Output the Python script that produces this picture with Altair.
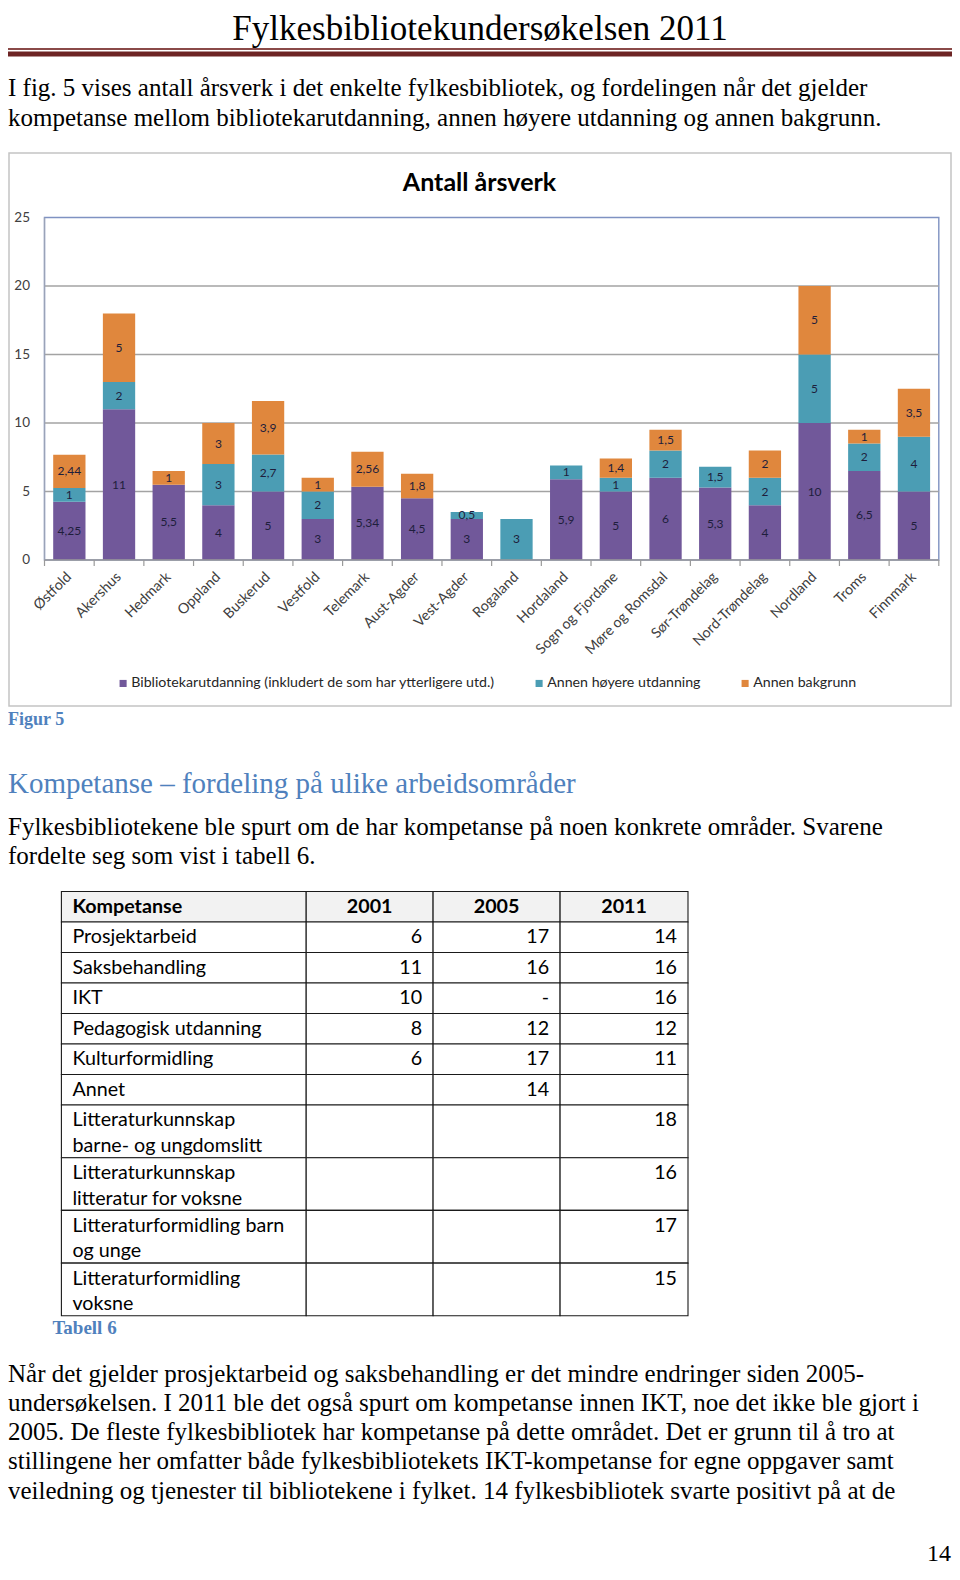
import altair as alt
import pandas as pd

# ---------------- data ----------------
regions = ["Østfold", "Akershus", "Hedmark", "Oppland", "Buskerud", "Vestfold",
           "Telemark", "Aust-Agder", "Vest-Agder", "Rogaland", "Hordaland",
           "Sogn og Fjordane", "Møre og Romsdal", "Sør-Trøndelag", "Nord-Trøndelag",
           "Nordland", "Troms", "Finnmark"]
bibliotekarutdanning = [4.25, 11, 5.5, 4, 5, 3, 5.34, 4.5, 3, None, 5.9, 5, 6, 5.3, 4, 10, 6.5, 5]
annen_hoyere = [1, 2, None, 3, 2.7, 2, None, None, 0.5, 3, 1, 1, 2, 1.5, 2, 5, 2, 4]
annen_bakgrunn = [2.44, 5, 1, 3, 3.9, 1, 2.56, 1.8, None, None, None, 1.4, 1.5, None, 2, 5, 1, 3.5]
series_names = ["Bibliotekarutdanning (inkludert de som har ytterligere utd.)",
                "Annen høyere utdanning", "Annen bakgrunn"]
series_colors = ["#71589a", "#4b9db4", "#e0873d"]
y_ticks = [0, 5, 10, 15, 20, 25]
chart_title = "Antall årsverk"

table_columns = ["Kompetanse", "2001", "2005", "2011"]
kompetanse = ["Prosjektarbeid", "Saksbehandling", "IKT", "Pedagogisk utdanning",
              "Kulturformidling", "Annet",
              "Litteraturkunnskap\nbarne- og ungdomslitt",
              "Litteraturkunnskap\nlitteratur for voksne",
              "Litteraturformidling barn\nog unge",
              "Litteraturformidling\nvoksne"]
aar_2001 = ["6", "11", "10", "8", "6", "", "", "", "", ""]
aar_2005 = ["17", "16", "-", "12", "17", "14", "", "", "", ""]
aar_2011 = ["14", "16", "16", "12", "11", "", "18", "16", "17", "15"]

page_header = "Fylkesbibliotekundersøkelsen 2011"
intro_lines = ["I fig. 5 vises antall årsverk i det enkelte fylkesbibliotek, og fordelingen når det gjelder",
               "kompetanse mellom bibliotekarutdanning, annen høyere utdanning og annen bakgrunn."]
figure_caption = "Figur 5"
section_heading = "Kompetanse – fordeling på ulike arbeidsområder"
para_lines = ["Fylkesbibliotekene ble spurt om de har kompetanse på noen konkrete områder. Svarene",
              "fordelte seg som vist i tabell 6."]
table_caption = "Tabell 6"
closing_lines = ["Når det gjelder prosjektarbeid og saksbehandling er det mindre endringer siden 2005-",
                 "undersøkelsen. I 2011 ble det også spurt om kompetanse innen IKT, noe det ikke ble gjort i",
                 "2005. De fleste fylkesbibliotek har kompetanse på dette området. Det er grunn til å tro at",
                 "stillingene her omfatter både fylkesbibliotekets IKT-kompetanse for egne oppgaver samt",
                 "veiledning og tjenester til bibliotekene i fylket. 14 fylkesbibliotek svarte positivt på at de"]
page_number = "14"

# ---------------- layout ----------------
W, H = 944, 1560
SERIF = "Liberation Serif"
SANS = "Lato"
BLUE = "#4f81bd"
BODY_FS = 25
ONE = pd.DataFrame({"_": [0]})


def line_text(text, x, base_y, size, font=SERIF, color="#000000", weight="normal", align="left"):
    return alt.Chart(pd.DataFrame({"t": [text]})).mark_text(
        align=align, baseline="alphabetic", font=font, fontSize=size,
        fontWeight=weight, color=color
    ).encode(x=alt.value(x), y=alt.value(base_y), text="t:N")


def para_text(lines, x, first_center, size, lh, font=SERIF, color="#000000"):
    return alt.Chart(pd.DataFrame({"t": ["\n".join(lines)]})).mark_text(
        align="left", baseline="top", font=font, fontSize=size, color=color,
        lineBreak="\n", lineHeight=lh
    ).encode(x=alt.value(x), y=alt.value(first_center - 0.49 * size), text="t:N")


def hline(y, x0, x1, color, width):
    return alt.Chart(ONE).mark_rule(color=color, strokeWidth=width).encode(
        x=alt.value(x0), x2=alt.value(x1), y=alt.value(y))


def vline(x, y0, y1, color, width):
    return alt.Chart(ONE).mark_rule(color=color, strokeWidth=width).encode(
        x=alt.value(x), y=alt.value(y0), y2=alt.value(y1))


def frame(x0, x1, y0, y1, stroke, width, fill="#ffffff", fill_opacity=1.0):
    return alt.Chart(ONE).mark_rect(fill=fill, fillOpacity=fill_opacity,
                                    stroke=stroke, strokeWidth=width).encode(
        x=alt.value(x0), x2=alt.value(x1), y=alt.value(y0), y2=alt.value(y1))


layers = []

# page header
layers.append(line_text(page_header, 472, 31.5, 35, align="center"))
layers.append(hline(41, 0, W, "#8a4a48", 2))
layers.append(hline(46, 0, W, "#6d2424", 5))
layers.append(para_text(intro_lines, 0, 80.6, BODY_FS, 29.3))

# ---------------- bar chart ----------------
PX0, PX1, PYT, PYB = 36.5, 930.8, 209.5, 552.0
layers.append(frame(1, 943, 145, 698, "#c4c4c4", 1.5))
layers.append(line_text(chart_title, 471.5, 183, 25, font=SANS, weight="bold", align="center"))


def fmt(v):
    return f"{v:g}".replace(".", ",")


rows = []
for i, reg in enumerate(regions):
    for k, vals in enumerate([bibliotekarutdanning, annen_hoyere, annen_bakgrunn]):
        v = vals[i]
        if v is None:
            continue
        rows.append({"region": reg, "serie": series_names[k], "order": k, "value": v, "label": fmt(v)})
bar_df = pd.DataFrame(rows)

XS = alt.Scale(domain=regions, range=[PX0, PX1], paddingInner=0.35, paddingOuter=0.175)
YS = alt.Scale(domain=[0, 25], range=[PYB, PYT], nice=False, zero=True)
XI = alt.Scale(domain=[0, len(regions)], range=[PX0, PX1], nice=False, zero=False)

tick_df = pd.DataFrame({"t": y_ticks})
layers.append(frame(PX0, PX1, PYT, PYB, "#7f92c2", 1.4, fill="#ffffff", fill_opacity=0))
layers.append(alt.Chart(tick_df).transform_filter("datum.t > 0 && datum.t < 25").mark_rule(
    color="#a3a3a3", strokeWidth=1.3).encode(
    y=alt.Y("t:Q", scale=YS, axis=None), x=alt.value(PX0), x2=alt.value(PX1)))
layers.append(vline(PX0, PYT, PYB, "#9aa3b8", 1.3))
layers.append(alt.Chart(tick_df).mark_text(
    align="right", baseline="middle", font=SANS, fontSize=13.5, color="#404040").encode(
    y=alt.Y("t:Q", scale=YS, axis=None), x=alt.value(22), text="t:Q"))

stacked = alt.Chart(bar_df).transform_stack(
    stack="value", groupby=["region"],
    sort=[alt.SortField(field="order", order="ascending")], as_=["v0", "v1"])

layers.append(stacked.mark_bar().encode(
    x=alt.X("region:N", scale=XS, axis=None),
    y=alt.Y("v0:Q", scale=YS, axis=None),
    y2="v1:Q",
    color=alt.Color("serie:N", scale=alt.Scale(domain=series_names, range=series_colors),
                    legend=alt.Legend(orient="none", legendX=108, legendY=668,
                                      direction="horizontal", title=None,
                                      symbolType="square", symbolSize=50,
                                      symbolStrokeWidth=0, labelFont=SANS,
                                      labelFontSize=14.2, labelColor="#262626",
                                      labelLimit=600, columnPadding=37,
                                      labelOffset=1))))

layers.append(stacked.transform_calculate(mid="(datum.v0 + datum.v1) / 2").mark_text(
    font=SANS, fontSize=12, color="#1e1e3c", baseline="middle").encode(
    x=alt.X("region:N", scale=XS, axis=None),
    y=alt.Y("mid:Q", scale=YS, axis=None),
    text="label:N"))

layers.append(hline(PYB, PX0, PX1, "#9a9a9a", 1.3))
layers.append(alt.Chart(pd.DataFrame({"i": list(range(len(regions) + 1))})).mark_rule(
    color="#9a9a9a", strokeWidth=1.2).encode(
    x=alt.X("i:Q", scale=XI, axis=None), y=alt.value(PYB), y2=alt.value(PYB + 6)))

layers.append(alt.Chart(pd.DataFrame({"region": regions})).mark_text(
    angle=315, align="right", baseline="middle", font=SANS, fontSize=14.3, color="#404040").encode(
    x=alt.X("region:N", scale=XS, axis=None, bandPosition=0.65),
    y=alt.value(PYB + 15), text="region:N"))

# captions and paragraph
layers.append(line_text(figure_caption, 0, 717, 18, weight="bold", color=BLUE))
layers.append(line_text(section_heading, 0, 785, 29, color=BLUE))
layers.append(para_text(para_lines, 0, 819, BODY_FS, 29.2))

# ---------------- table ----------------
SINGLE_ROW, DOUBLE_ROW = 30.5, 52.7
COL_W = [244.8, 126.9, 127.0, 127.9]
T_X0, T_Y0 = 53.4, 883.5
T_FS = 19.7
row_texts = [table_columns[0]] + kompetanse
heights = [SINGLE_ROW if t.count("\n") == 0 else DOUBLE_ROW for t in row_texts]
tops = [sum(heights[:i]) for i in range(len(heights))]
edges = [sum(COL_W[:i]) for i in range(len(COL_W) + 1)]
TW, TH = edges[-1], sum(heights)
TXS = alt.Scale(domain=[0, TW], range=[T_X0, T_X0 + TW], nice=False, zero=False)
TYS = alt.Scale(domain=[0, TH], range=[T_Y0, T_Y0 + TH], nice=False, zero=False)

cells = []
for r in range(len(row_texts)):
    for c in range(len(COL_W)):
        cells.append({"x0": edges[c], "x1": edges[c + 1], "y0": tops[r], "y1": tops[r] + heights[r],
                      "fill": "#f2f2f2" if r == 0 else "#ffffff"})
layers.append(alt.Chart(pd.DataFrame(cells)).mark_rect(stroke="#1a1a1a", strokeWidth=1.1).encode(
    x=alt.X("x0:Q", scale=TXS, axis=None), x2="x1:Q",
    y=alt.Y("y0:Q", scale=TYS, axis=None), y2="y1:Q",
    fill=alt.Fill("fill:N", scale=None)))

text_off = 15.1 - 0.49 * T_FS
head = [{"t": table_columns[c], "x": (edges[c] + edges[c + 1]) / 2, "y": tops[0] + text_off}
        for c in range(1, 4)]
layers.append(alt.Chart(pd.DataFrame(head)).mark_text(
    align="center", baseline="top", font=SANS, fontSize=T_FS, fontWeight="bold", color="#000000").encode(
    x=alt.X("x:Q", scale=TXS, axis=None), y=alt.Y("y:Q", scale=TYS, axis=None), text="t:N"))
layers.append(alt.Chart(pd.DataFrame([{"t": table_columns[0], "x": edges[0] + 11, "y": tops[0] + text_off}])).mark_text(
    align="left", baseline="top", font=SANS, fontSize=T_FS, fontWeight="bold", color="#000000").encode(
    x=alt.X("x:Q", scale=TXS, axis=None), y=alt.Y("y:Q", scale=TYS, axis=None), text="t:N"))

lab = [{"t": kompetanse[i], "x": edges[0] + 11, "y": tops[i + 1] + text_off} for i in range(len(kompetanse))]
layers.append(alt.Chart(pd.DataFrame(lab)).mark_text(
    align="left", baseline="top", font=SANS, fontSize=T_FS, color="#000000",
    lineBreak="\n", lineHeight=25.6).encode(
    x=alt.X("x:Q", scale=TXS, axis=None), y=alt.Y("y:Q", scale=TYS, axis=None), text="t:N"))

nums = []
for c, col in enumerate([aar_2001, aar_2005, aar_2011], start=1):
    for i, v in enumerate(col):
        if v:
            nums.append({"t": v, "x": edges[c + 1] - 11, "y": tops[i + 1] + text_off})
layers.append(alt.Chart(pd.DataFrame(nums)).mark_text(
    align="right", baseline="top", font=SANS, fontSize=T_FS, color="#000000").encode(
    x=alt.X("x:Q", scale=TXS, axis=None), y=alt.Y("y:Q", scale=TYS, axis=None), text="t:N"))

layers.append(line_text(table_caption, 44.4, 1326, 19, weight="bold", color=BLUE))
layers.append(para_text(closing_lines, 0, 1366, BODY_FS, 29.2))
layers.append(line_text(page_number, 943, 1553, 24, align="right"))

chart = alt.layer(*layers).resolve_scale(x="independent", y="independent").properties(
    width=W, height=H, padding=0, autosize=alt.AutoSizeParams(type="none"),
    background="#ffffff"
).configure_view(stroke=None)

chart.save("out.html", embed_options={"renderer": "svg", "actions": False})
